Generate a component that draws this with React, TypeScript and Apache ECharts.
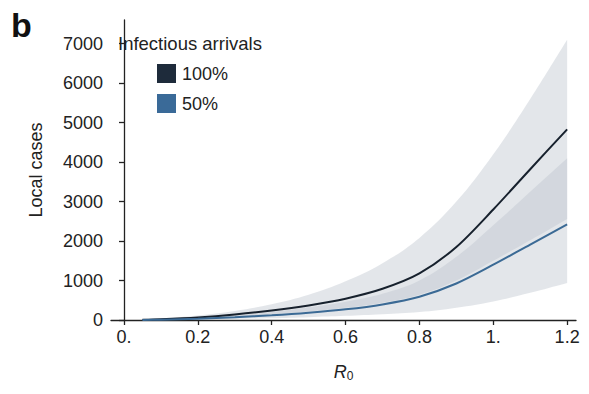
import React, { useEffect, useRef } from "react";
import * as echarts from "echarts";

// R0 sample points
const r0 = [0.05, 0.1, 0.2, 0.3, 0.4, 0.5, 0.6, 0.7, 0.8, 0.9, 1.0, 1.1, 1.2];
// median local cases
const cases100 = [5, 18, 65, 140, 240, 370, 540, 790, 1180, 1850, 2800, 3820, 4830];
const cases50 = [2, 9, 32, 70, 120, 185, 270, 395, 590, 925, 1400, 1910, 2420];
// uncertainty bands
const upper100 = [15, 40, 115, 230, 400, 640, 980, 1440, 2080, 3000, 4200, 5600, 7100];
const lower100 = [3, 11, 38, 80, 140, 215, 310, 440, 640, 1000, 1500, 2020, 2560];
const upper50 = [4, 15, 55, 118, 205, 320, 465, 665, 1000, 1600, 2400, 3250, 4100];
const lower50 = [1, 4, 12, 25, 45, 72, 105, 145, 200, 310, 470, 690, 940];
// ticks
const xTickValues = [0, 0.2, 0.4, 0.6, 0.8, 1.0, 1.2];
const xTickLabels = ["0.", "0.2", "0.4", "0.6", "0.8", "1.", "1.2"];
const yTickValues = [0, 1000, 2000, 3000, 4000, 5000, 6000, 7000];
const yTickLabels = ["0", "1000", "2000", "3000", "4000", "5000", "6000", "7000"];
const seriesNames = ["100%", "50%"];
const legendTitle = "Infectious arrivals";

const FONT = "'Liberation Sans', Arial, Helvetica, sans-serif";
const C100 = "#17212d";
const C50 = "#3b6a95";
const BAND = "rgba(188,196,204,0.42)";

export default function App() {
  const ref = useRef<HTMLDivElement>(null);
  useEffect(() => {
    if (!ref.current) return;
    const chart = echarts.init(ref.current, undefined, { renderer: "svg" });
    const pts = (arr: number[]) => r0.map((x, i) => [x, arr[i]]);
    const bands = [
      { lo: lower100, hi: upper100 },
      { lo: lower50, hi: upper50 },
    ];
    const axisColor = "#222";
    chart.setOption({
      animation: false,
      grid: { left: 111, right: 13, top: 20, bottom: 74 },
      xAxis: {
        type: "value",
        min: -0.0352,
        max: 1.224,
        axisLine: { show: true, lineStyle: { color: axisColor, width: 1.3 } },
        axisTick: {
          show: true,
          length: 5,
          customValues: xTickValues,
          lineStyle: { color: axisColor, width: 1.3 },
        },
        splitLine: { show: false },
        axisLabel: {
          color: axisColor,
          fontFamily: FONT,
          fontSize: 18,
          margin: 8,
          customValues: xTickValues,
          formatter: (v: number) => {
            const i = xTickValues.findIndex((t) => Math.abs(t - v) < 1e-6);
            return i >= 0 ? xTickLabels[i] : "";
          },
        },
        name: "{i|R}{s|0}",
        nameLocation: "middle",
        nameGap: 42,
        nameTextStyle: {
          rich: {
            i: { fontFamily: FONT, fontStyle: "italic", fontSize: 18, color: axisColor },
            s: { fontFamily: FONT, fontSize: 12, color: axisColor, verticalAlign: "bottom", padding: [8, 0, 0, 0] },
          },
        },
      },
      yAxis: {
        type: "value",
        min: 0,
        max: 7600,
        axisLine: { show: true, lineStyle: { color: axisColor, width: 1.3 } },
        axisTick: {
          show: true,
          length: 5,
          customValues: yTickValues,
          lineStyle: { color: axisColor, width: 1.3 },
        },
        splitLine: { show: false },
        axisLabel: {
          color: axisColor,
          fontFamily: FONT,
          fontSize: 18,
          margin: 8,
          customValues: yTickValues,
          formatter: (v: number) => {
            const i = yTickValues.findIndex((t) => Math.abs(t - v) < 1e-6);
            return i >= 0 ? yTickLabels[i] : "";
          },
        },
        name: "Local cases",
        nameLocation: "middle",
        nameGap: 66,
        nameRotate: 90,
        nameTextStyle: { fontFamily: FONT, fontSize: 18, color: axisColor },
      },
      legend: {
        data: [
          { name: seriesNames[0], itemStyle: { color: "#1e2b3b" } },
          { name: seriesNames[1], itemStyle: { color: "#3a6a98" } },
        ],
        orient: "vertical",
        left: 152,
        top: 59,
        icon: "rect",
        itemWidth: 19,
        itemHeight: 19,
        itemGap: 11,
        selectedMode: false,
        textStyle: { fontFamily: FONT, fontSize: 18, color: axisColor, padding: [0, 0, 0, 1] },
      },
      graphic: [
        {
          type: "text",
          left: 11,
          top: 8,
          style: { text: "b", font: `bold 34px ${FONT}`, fill: "#111" },
        },
        {
          type: "text",
          left: 118,
          top: 34,
          style: { text: legendTitle, font: `18.5px ${FONT}`, fill: axisColor },
        },
      ],
      series: [
        {
          type: "custom",
          silent: true,
          clip: true,
          z: 1,
          data: bands.map((_, i) => [r0[0], 0, i]),
          encode: { x: 0, y: 1 },
          renderItem: (params: any, api: any) => {
            const b = bands[params.dataIndex];
            const n = r0.length;
            const top = r0.map((x, i) => api.coord([x, b.hi[i]]));
            const bot = r0.map((x, i) => api.coord([x, b.lo[i]])).reverse();
            const points = [top[0], ...top.slice(0, n - 1), top[n - 1], top[n - 1], bot[0], bot[0], ...bot.slice(1), bot[n - 1]];
            return {
              type: "polygon",
              shape: { points, smooth: 0.4 },
              style: { fill: BAND, stroke: "none" },
            };
          },
        },
        {
          name: seriesNames[0],
          type: "line",
          data: pts(cases100),
          smooth: 0.3,
          symbol: "none",
          lineStyle: { color: C100, width: 2 },
          itemStyle: { color: C100 },
          z: 3,
        },
        {
          name: seriesNames[1],
          type: "line",
          data: pts(cases50),
          smooth: 0.3,
          symbol: "none",
          lineStyle: { color: C50, width: 2 },
          itemStyle: { color: C50 },
          z: 3,
        },
      ],
    });
    return () => chart.dispose();
  }, []);
  return <div ref={ref} style={{ width: 589, height: 394, position: "absolute", left: 0, top: 0 }} />;
}
